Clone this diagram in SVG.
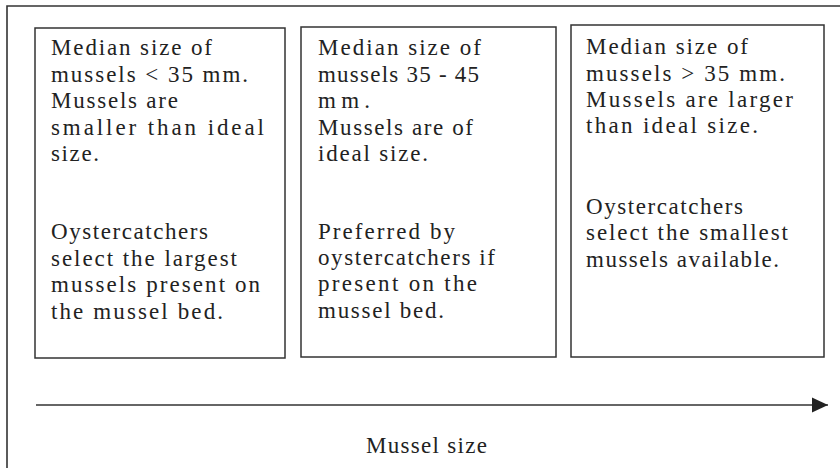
<svg xmlns="http://www.w3.org/2000/svg" width="840" height="468" viewBox="0 0 840 468">
<style>
.frame{fill:none;stroke:#333;stroke-width:1.6}
.box{fill:#fff;stroke:#333;stroke-width:1.5}
.t{font-family:"Liberation Serif","Times New Roman",serif;font-size:23px;fill:#222}
</style>
<defs>
<marker id="ah" viewBox="0 0 16 16" refX="16" refY="8" markerWidth="16" markerHeight="16" markerUnits="userSpaceOnUse" orient="auto">
<path d="M0,0.5 L16,8 L0,15.5 Z" fill="#222"/>
</marker>
</defs>
<rect width="840" height="468" fill="#fff"/>
<path class="frame" d="M7,468 V6 H840"/>
<g id="box1">
<rect class="box" x="35" y="28" width="250" height="330"/>
<text class="t" x="51" y="55" textLength="161" lengthAdjust="spacing">Median size of</text>
<text class="t" x="51" y="81.5" textLength="197" lengthAdjust="spacing">mussels &lt; 35 mm.</text>
<text class="t" x="51" y="108" textLength="127" lengthAdjust="spacing">Mussels are</text>
<text class="t" x="51" y="134.5" textLength="213" lengthAdjust="spacing">smaller than ideal</text>
<text class="t" x="51" y="161" textLength="48" lengthAdjust="spacing">size.</text>
<text class="t" x="51" y="239" textLength="157" lengthAdjust="spacing">Oystercatchers</text>
<text class="t" x="51" y="265.5" textLength="186" lengthAdjust="spacing">select the largest</text>
<text class="t" x="51" y="292" textLength="209" lengthAdjust="spacing">mussels present on</text>
<text class="t" x="51" y="318.5" textLength="172" lengthAdjust="spacing">the mussel bed.</text>
</g>
<g id="box2">
<rect class="box" x="301" y="27" width="255" height="330"/>
<text class="t" x="318" y="55" textLength="163" lengthAdjust="spacing">Median size of</text>
<text class="t" x="318" y="81.5" textLength="161" lengthAdjust="spacing">mussels 35 - 45</text>
<text class="t" x="318" y="108" textLength="52" lengthAdjust="spacing">m m .</text>
<text class="t" x="318" y="134.5" textLength="155" lengthAdjust="spacing">Mussels are of</text>
<text class="t" x="318" y="161" textLength="110" lengthAdjust="spacing">ideal size.</text>
<text class="t" x="318" y="239" textLength="137" lengthAdjust="spacing">Preferred by</text>
<text class="t" x="318" y="265" textLength="177" lengthAdjust="spacing">oystercatchers if</text>
<text class="t" x="318" y="291" textLength="159" lengthAdjust="spacing">present on the</text>
<text class="t" x="318" y="317.5" textLength="126" lengthAdjust="spacing">mussel bed.</text>
</g>
<g id="box3">
<rect class="box" x="571" y="25" width="253" height="332"/>
<text class="t" x="586" y="54" textLength="162" lengthAdjust="spacing">Median size of</text>
<text class="t" x="586" y="80.5" textLength="199" lengthAdjust="spacing">mussels &gt; 35 mm.</text>
<text class="t" x="586" y="107" textLength="207" lengthAdjust="spacing">Mussels are larger</text>
<text class="t" x="586" y="133" textLength="172" lengthAdjust="spacing">than ideal size.</text>
<text class="t" x="586" y="213.5" textLength="157" lengthAdjust="spacing">Oystercatchers</text>
<text class="t" x="586" y="240" textLength="202" lengthAdjust="spacing">select the smallest</text>
<text class="t" x="586" y="266.5" textLength="193" lengthAdjust="spacing">mussels available.</text>
</g>
<g id="connectors">
<line x1="36" y1="405" x2="828" y2="405" stroke="#333" stroke-width="1.6" marker-end="url(#ah)"/>
</g>
<g id="axis-label">
<text class="t" x="366" y="453" textLength="121" lengthAdjust="spacing">Mussel size</text>
</g>
</svg>
